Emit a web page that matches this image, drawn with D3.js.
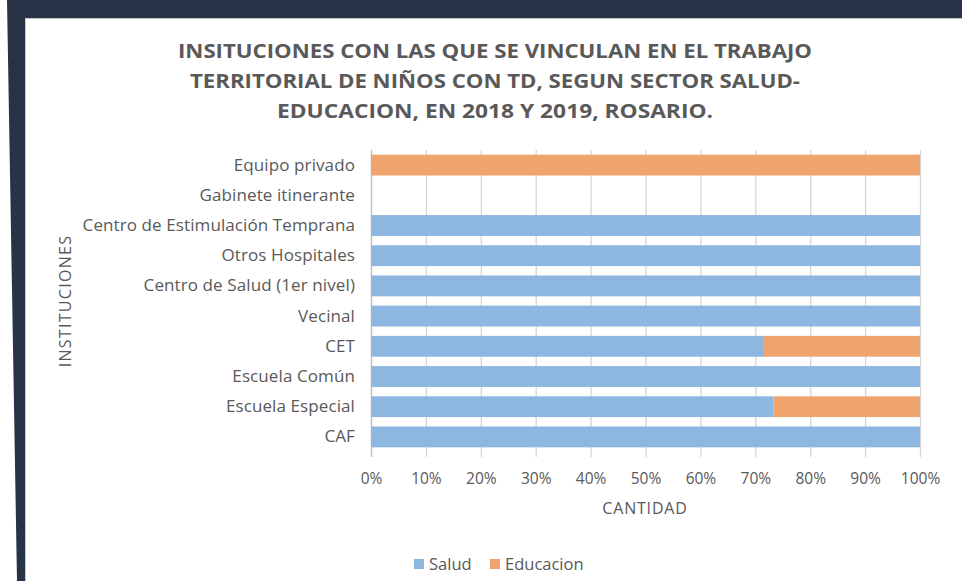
<!DOCTYPE html>
<html><head><meta charset="utf-8">
<script src="https://cdn.jsdelivr.net/npm/d3@7"></script>
<style>body{margin:0;background:#fff;}svg{display:block;}</style>
</head><body>
<svg id="c" width="962" height="581"></svg>
<script>
const titleLines = ["INSITUCIONES CON LAS QUE SE VINCULAN EN EL TRABAJO",
  "TERRITORIAL DE NIÑOS CON TD, SEGUN SECTOR SALUD-",
  "EDUCACION, EN 2018 Y 2019, ROSARIO."];
const categories = ["Equipo privado","Gabinete itinerante","Centro de Estimulación Temprana",
  "Otros Hospitales","Centro de Salud (1er nivel)","Vecinal","CET","Escuela Común",
  "Escuela Especial","CAF"];
const salud =     [0, 0, 100, 100, 100, 100, 71.4, 100, 73.3, 100];
const educacion = [100, 0, 0, 0, 0, 0, 28.6, 0, 26.7, 0];
const seriesNames = ["Salud","Educacion"];
const seriesColors = ["#8db6e1","#f0a46d"];
const tickValues = [0,10,20,30,40,50,60,70,80,90,100];

const svg = d3.select("#c");
const textColor = "#595959";

// frame
svg.append("rect").attr("x",0).attr("y",0).attr("width",962).attr("height",581).attr("fill","#fff");
svg.append("path").attr("d","M7,0 H962 V18 H25 V581 H17 Z").attr("fill","#283347");
svg.append("path").attr("d","M962,18.5 H25.5 V581").attr("fill","none").attr("stroke","#c8c8c8").attr("stroke-width",1);

// title
const titleWidths = [634, 610, 436];
titleLines.forEach((t,i)=>{
  svg.append("text").attr("x",495).attr("y",58+i*30).attr("text-anchor","middle")
    .attr("font-family","'Open Sans'").attr("font-weight","bold").attr("font-size",19)
    .attr("fill",textColor).attr("textLength",titleWidths[i]).attr("lengthAdjust","spacingAndGlyphs")
    .text(t);
});

const x = d3.scaleLinear().domain([0,100]).range([371,920]);
const y = d3.scaleBand().domain(categories).range([150,452]).paddingInner(0.31).paddingOuter(0.155);

// gridlines
svg.append("g").selectAll("line").data(tickValues).join("line")
  .attr("x1",d=>x(d)+0.5).attr("x2",d=>x(d)+0.5).attr("y1",150).attr("y2",457)
  .attr("stroke",d=>d===0?"#bfbfbf":"#d6d6d6").attr("stroke-width",d=>d===0?1.5:1.3);

const stackData = categories.map((c,i)=>({cat:c, Salud:salud[i], Educacion:educacion[i]}));
const stack = d3.stack().keys(seriesNames)(stackData);
svg.append("g").selectAll("g").data(stack).join("g").attr("fill",(d,i)=>seriesColors[i])
  .selectAll("rect").data(d=>d).join("rect")
  .attr("x",d=>x(d[0])).attr("width",d=>x(d[1])-x(d[0]))
  .attr("y",d=>y(d.data.cat)).attr("height",y.bandwidth());

// x axis labels
const xAxis = d3.axisBottom(x).tickValues(tickValues).tickFormat(d=>d+"%").tickSize(0).tickPadding(0);
const gx = svg.append("g").attr("transform","translate(0,470)").call(xAxis);
gx.select(".domain").remove();
gx.selectAll("text").attr("font-family","'Open Sans'").attr("font-size",15.5).attr("fill",textColor).attr("dy","0.9em");

// y axis labels
const yAxis = d3.axisLeft(y).tickSize(0).tickPadding(16);
const gy = svg.append("g").attr("transform","translate(371,0)").call(yAxis);
gy.select(".domain").remove();
gy.selectAll("text").attr("font-family","'Open Sans'").attr("font-size",17).attr("fill",textColor)
  .attr("letter-spacing","0.1px");

// axis titles
svg.append("text").attr("x",645).attr("y",514).attr("text-anchor","middle")
  .attr("font-family","'Open Sans'").attr("font-size",16).attr("letter-spacing","0.8px").attr("fill",textColor).text("CANTIDAD");
svg.append("text").attr("transform","translate(71,301) rotate(-90)").attr("text-anchor","middle")
  .attr("font-family","'Open Sans'").attr("font-size",16).attr("letter-spacing","1.3px").attr("fill",textColor).text("INSTITUCIONES");

// legend
const legX = [414, 490];
seriesNames.forEach((s,i)=>{
  svg.append("rect").attr("x",legX[i]).attr("y",559).attr("width",10).attr("height",10).attr("fill",seriesColors[i]);
  svg.append("text").attr("x",legX[i]+15).attr("y",570).attr("font-family","'Open Sans'").attr("font-size",16.5)
    .attr("fill",textColor).text(s);
});
</script>
</body></html>
